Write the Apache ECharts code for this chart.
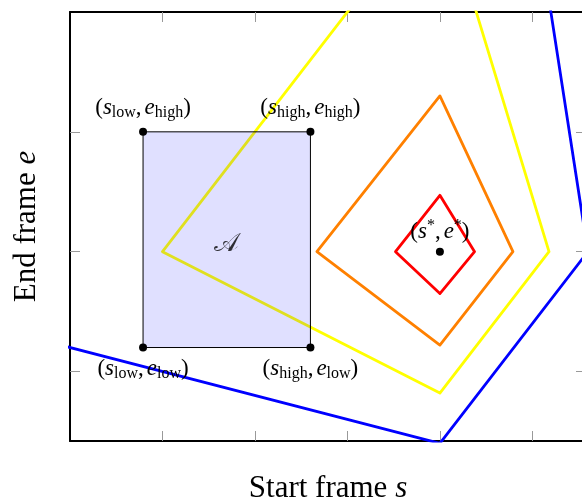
<!DOCTYPE html>
<html>
<head>
<meta charset="utf-8">
<script src="https://cdn.jsdelivr.net/npm/echarts@6/dist/echarts.min.js"></script>
<style>
  html, body { margin: 0; padding: 0; background: #fff; }
  #chart { width: 582px; height: 500px; }
</style>
</head>
<body>
<div id="chart"></div>
<script>
// Admissible region A = [sLow, sHigh] x [eLow, eHigh]
const sBounds = [0.79, 2.6];
const eBounds = [1.2, 3.0];
// Optimum (s*, e*)
const optimum = [4, 2];
// Level-set contours around the optimum, closed polygons: left, top, right, bottom
const contourRed    = [[3.52, 2], [4, 2.47], [4.375, 2], [4, 1.65], [3.52, 2]];
const contourOrange = [[2.67, 2], [4, 3.3], [4.79, 2], [4, 1.22], [2.67, 2]];
const contourYellow = [[1.0, 2], [4, 5.0], [5.18, 2], [4, 0.82], [1.0, 2]];
const contourBlue   = [[-4, 2], [4, 10], [5.6, 2], [4, 0.4], [-4, 2]];
// Axis ranges and tick positions (no tick labels are shown)
const xRange = [0, 5.58];
const yRange = [0.42, 4];
const xTicks = [1, 2, 3, 4, 5];
const yTicks = [1, 2, 3];

const serif = '"Liberation Serif", "DejaVu Serif", serif';
const mathRich = {
  p:   { fontFamily: serif, fontSize: 23, color: '#000' },
  v:   { fontFamily: serif, fontSize: 23, fontStyle: 'italic', color: '#000' },
  c:   { fontFamily: serif, fontSize: 23, color: '#000', padding: [0, 3, 0, 0] },
  sub: { fontFamily: serif, fontSize: 16, color: '#000', padding: [10, 0, 0, 0] },
  sup: { fontFamily: serif, fontSize: 16, color: '#000', padding: [0, 0, 12, 0] }
};

const corners = [
  { value: [sBounds[0], eBounds[1]], text: '{p|(}{v|s}{sub|low}{c|,}{v|e}{sub|high}{p|)}', pos: 'top' },
  { value: [sBounds[1], eBounds[1]], text: '{p|(}{v|s}{sub|high}{c|,}{v|e}{sub|high}{p|)}', pos: 'top' },
  { value: [sBounds[0], eBounds[0]], text: '{p|(}{v|s}{sub|low}{c|,}{v|e}{sub|low}{p|)}', pos: 'bottom' },
  { value: [sBounds[1], eBounds[0]], text: '{p|(}{v|s}{sub|high}{c|,}{v|e}{sub|low}{p|)}', pos: 'bottom' }
];

function axisCommon(ticks) {
  return {
    axisLine: { show: true, onZero: false, lineStyle: { color: '#000', width: 2 } },
    axisTick: { show: true, inside: true, length: 10, customValues: ticks, lineStyle: { color: '#999', width: 1 } },
    axisLabel: { show: false },
    splitLine: { show: false }
  };
}

function contour(data, color) {
  return {
    type: 'line', data: data, showSymbol: false, symbol: 'none', silent: true,
    clip: true, z: 2,
    lineStyle: { color: color, width: 2.8, join: 'round', cap: 'round' }
  };
}

const titleRich = {
  n: { fontFamily: serif, fontSize: 31, color: '#000' },
  i: { fontFamily: serif, fontSize: 31, fontStyle: 'italic', color: '#000' }
};

const chart = echarts.init(document.getElementById('chart'), null, { renderer: 'canvas' });
chart.setOption({
  animation: false,
  backgroundColor: '#fff',
  grid: { left: 70, top: 12, width: 516, height: 429, containLabel: false, outerBoundsMode: 'none' },
  xAxis: [
    Object.assign({
      type: 'value', min: xRange[0], max: xRange[1], position: 'bottom',
      name: '{n|Start frame }{i|s}', nameLocation: 'middle', nameGap: 32,
      nameTextStyle: { rich: titleRich }
    }, axisCommon(xTicks)),
    Object.assign({ type: 'value', min: xRange[0], max: xRange[1], position: 'top' }, axisCommon(xTicks))
  ],
  yAxis: [
    Object.assign({
      type: 'value', min: yRange[0], max: yRange[1], position: 'left',
      name: '{n|End frame }{i|e}', nameLocation: 'middle', nameGap: 28,
      nameTextStyle: { rich: titleRich }
    }, axisCommon(yTicks)),
    Object.assign({ type: 'value', min: yRange[0], max: yRange[1], position: 'right' }, axisCommon(yTicks))
  ],
  series: [
    contour(contourBlue, '#0000ff'),
    contour(contourYellow, '#ffff00'),
    contour(contourOrange, '#ff8000'),
    contour(contourRed, '#ff0000'),
    {
      // shaded admissible box, drawn over the contours
      type: 'custom', silent: true, z: 3,
      data: [[sBounds[0], eBounds[0], sBounds[1], eBounds[1]]],
      renderItem: function (params, api) {
        const p0 = api.coord([api.value(0), api.value(3)]);
        const p1 = api.coord([api.value(2), api.value(1)]);
        return {
          type: 'rect',
          shape: { x: p0[0], y: p0[1], width: p1[0] - p0[0], height: p1[1] - p0[1] },
          style: { fill: 'rgba(0,0,255,0.12)', stroke: '#000', lineWidth: 1 }
        };
      }
    },
    {
      // box name at its centre
      type: 'scatter', silent: true, z: 4, symbolSize: 0,
      data: [[(sBounds[0] + sBounds[1]) / 2, (eBounds[0] + eBounds[1]) / 2]],
      label: {
        show: true, position: 'inside', formatter: '𝒜', offset: [0, 4],
        fontFamily: serif, fontSize: 26, color: '#000'
      }
    },
    {
      type: 'scatter', silent: true, z: 5, symbolSize: 8,
      itemStyle: { color: '#000', opacity: 1 },
      data: corners.map(c => ({
        value: c.value,
        label: {
          show: true, position: c.pos, distance: c.pos === 'top' ? 7 : 4,
          formatter: c.text, rich: mathRich
        }
      }))
    },
    {
      type: 'scatter', silent: true, z: 5, symbolSize: 8,
      itemStyle: { color: '#000', opacity: 1 },
      data: [optimum],
      label: {
        show: true, position: 'top', distance: 2,
        formatter: '{p|(}{v|s}{sup|*}{c|,}{v|e}{sup|*}{p|)}', rich: mathRich
      }
    }
  ]
});
</script>
</body>
</html>
